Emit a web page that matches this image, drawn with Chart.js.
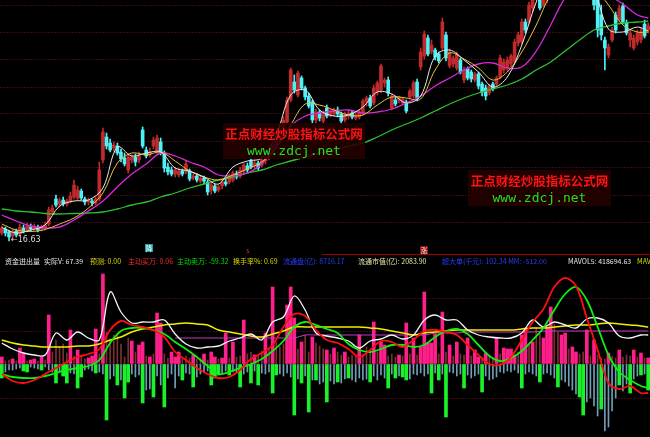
<!DOCTYPE html>
<html><head><meta charset="utf-8">
<script src="https://cdn.jsdelivr.net/npm/chart.js@4.4.1/dist/chart.umd.min.js"></script>
<style>
html,body{margin:0;padding:0;background:#000;width:650px;height:437px;overflow:hidden;}
#wrap{position:relative;width:650px;height:437px;background:#000;}
canvas{position:absolute;left:0;}
#top{top:0;}
#bot{top:268px;}
.t{position:absolute;white-space:nowrap;font-family:"Noto Sans CJK SC","Noto Sans",sans-serif;font-size:7px;line-height:9px;top:257px;}
.w{color:#e6e6e6}.y{color:#d8d800}.r{color:#ff2a2a}.g{color:#00e000}.b{color:#2a3cff}.ly{color:#e8e4a8}
.wm{position:absolute;background:rgba(38,0,0,0.88);}
.wm .cn{position:absolute;left:0;width:100%;text-align:center;color:#ff1212;font-family:"Noto Sans CJK SC",sans-serif;font-size:12.5px;font-weight:bold;line-height:14px;}
.wm .en{position:absolute;left:0;width:100%;text-align:center;color:#22e022;font-family:"DejaVu Sans Mono","Liberation Mono",monospace;font-size:13px;line-height:13px;}
.sep{position:absolute;left:322px;top:254px;width:328px;height:1px;background:#a00000;}
.mk{position:absolute;font-family:"Noto Sans CJK SC",sans-serif;font-size:7px;line-height:8px;text-align:center;width:8px;height:8px;}
</style></head>
<body><div id="wrap">
<canvas id="top" width="650" height="255"></canvas>
<canvas id="bot" width="650" height="169"></canvas>
<div class="sep"></div>
<div class="t w" style="left:5px">资金进出量</div>
<div class="t w" style="left:44px">实际V: 67.39</div>
<div class="t y" style="left:90px">预测: 0.00</div>
<div class="t r" style="left:128px">主动买万: 0.06</div>
<div class="t g" style="left:177px">主动卖万: -59.32</div>
<div class="t y" style="left:233px">换手率%: 0.69</div>
<div class="t b" style="left:283px">流通盘(亿): 8716.17</div>
<div class="t ly" style="left:358px">流通市值(亿): 2083.90</div>
<div class="t b" style="left:442px">超大单(千元): 102.34 MM: -512.00</div>
<div class="t w" style="left:568px">MAVOL5: 418694.63</div>
<div class="t y" style="left:637px">MAVOL10: 398210.55</div>
<div class="mk" style="left:145px;top:244px;background:#2a9a9a;color:#e8ffff">降</div>
<div class="mk" style="left:244px;top:246px;color:#ff2020">s</div>
<div class="mk" style="left:420px;top:246px;background:#8a1010;color:#ffe0e0">涨</div>
<div style="position:absolute;left:11px;top:235px;color:#d8d8d8;font-family:'DejaVu Sans',sans-serif;font-size:8px;line-height:10px">←16.63</div>
<div class="wm" style="left:223px;top:123px;width:142px;height:36px">
  <div class="cn" style="top:4px">正点财经炒股指标公式网</div>
  <div class="en" style="top:21px">www.zdcj.net</div>
</div>
<div class="wm" style="left:468px;top:170px;width:143px;height:36px">
  <div class="cn" style="top:4px">正点财经炒股指标公式网</div>
  <div class="en" style="top:21px">www.zdcj.net</div>
</div>
</div>
<script>
// ---- daily candles (180 sessions) ----
const opens = [16.95,17.11,16.99,16.83,17.03,16.91,17.15,17.07,17.19,17.11,
17.19,17.11,17.15,17.31,17.79,18.31,18.11,18.27,18.11,18.23,
18.39,18.35,18.63,18.31,18.19,18.23,18.15,18.31,19.87,20.79,
20.55,20.35,20.43,20.19,19.95,19.47,19.87,19.99,19.87,21.07,
20.27,20.07,20.43,20.19,20.59,20.15,19.59,19.47,19.31,19.27,
19.43,19.39,19.43,19.15,19.23,19.03,19.15,18.99,18.67,18.83,
18.67,18.83,18.99,18.99,19.07,19.31,19.23,19.43,19.63,19.83,
19.63,19.75,19.67,19.83,19.95,20.19,20.35,20.63,21.15,21.39,
22.27,22.99,22.47,23.15,22.75,22.43,22.19,21.47,21.79,21.43,
21.95,21.67,21.71,21.87,21.71,21.47,21.63,21.75,21.55,21.59,
21.75,22.19,22.35,22.15,22.59,22.67,22.95,23.07,21.95,22.27,
22.27,22.15,22.19,22.39,22.43,22.99,23.59,24.03,24.75,24.19,
24.27,24.11,24.35,24.87,23.63,23.71,23.55,23.87,23.07,23.51,
23.39,23.07,23.31,22.91,22.75,22.55,22.91,22.91,23.19,23.47,
23.55,23.71,23.79,24.55,24.59,25.39,25.39,25.95,26.39,26.47,
26.07,26.27,26.67,27.27,27.15,27.67,27.55,28.07,27.87,28.19,
27.87,27.95,27.39,27.07,26.67,26.47,25.67,24.67,24.07,24.67,
25.67,25.47,26.03,25.35,24.67,24.35,24.59,24.67,25.31,25.07];
const closes = [17.15,16.95,16.79,17.03,16.87,17.19,17.03,17.23,17.11,17.23,
17.07,17.19,17.27,17.87,17.95,18.07,18.23,18.11,18.23,18.43,
18.87,18.67,18.35,18.19,18.27,18.15,18.31,19.47,20.99,20.43,
20.27,20.47,20.15,19.91,19.71,19.99,19.99,19.79,20.03,20.43,
20.03,20.19,20.67,20.75,20.19,19.55,19.39,19.31,19.47,19.43,
19.31,19.71,19.11,19.23,19.07,19.15,19.03,18.59,18.87,18.63,
18.79,18.99,18.91,19.23,19.35,19.19,19.47,19.67,19.47,19.59,
19.75,19.55,19.87,19.95,20.19,20.39,20.67,21.15,21.47,22.27,
23.47,22.67,23.35,22.75,22.39,22.03,21.47,21.79,21.55,21.75,
21.63,21.83,21.87,21.71,21.43,21.67,21.75,21.59,21.67,21.79,
22.23,22.35,22.03,22.75,22.95,23.63,23.07,22.55,22.43,22.11,
22.39,22.31,21.83,22.63,22.95,22.35,24.19,24.91,24.11,24.47,
23.99,23.83,25.39,23.95,24.19,23.95,24.11,23.39,23.47,23.15,
23.11,23.31,22.83,22.59,22.43,22.83,22.71,23.15,23.95,23.79,
23.87,24.03,24.59,24.87,25.39,25.07,26.07,26.47,26.75,25.95,
26.39,26.67,27.27,27.07,27.67,27.47,28.07,27.79,28.27,27.87,
28.07,27.47,27.07,26.47,26.07,25.07,24.87,24.35,24.39,25.07,
25.07,25.95,25.39,24.95,24.95,24.75,24.95,24.99,24.83,25.23];
const highs = [17.23,17.19,17.07,17.11,17.11,17.31,17.27,17.35,17.31,17.31,
17.27,17.27,17.39,17.99,18.07,18.47,18.35,18.39,18.31,18.59,
19.07,18.83,18.71,18.39,18.35,18.31,18.39,19.79,21.15,20.95,
20.71,20.59,20.55,20.31,20.15,20.11,20.07,20.11,20.19,21.19,
20.39,20.35,20.79,20.87,20.75,20.23,19.75,19.59,19.59,19.55,
19.51,19.83,19.51,19.31,19.31,19.23,19.23,19.07,18.95,18.91,
18.87,19.07,19.15,19.31,19.43,19.43,19.59,19.75,19.75,19.95,
19.87,19.83,19.99,20.07,20.31,20.51,20.79,21.31,21.59,22.39,
23.55,23.27,23.43,23.23,22.83,22.55,22.27,21.91,21.87,21.83,
22.07,21.91,21.95,21.99,21.79,21.79,21.87,21.83,21.75,21.87,
22.31,22.43,22.47,22.87,23.03,23.71,23.15,23.19,22.51,22.39,
22.43,22.39,22.27,22.71,23.03,23.11,24.35,25.03,24.87,24.67,
24.35,24.19,25.55,24.99,24.31,24.03,24.19,23.95,23.59,23.59,
23.47,23.39,23.39,22.99,22.87,22.91,22.99,23.23,24.07,23.91,
23.99,24.11,24.71,24.99,25.51,25.51,26.19,26.59,26.87,26.67,
26.51,26.83,27.39,27.47,27.79,27.87,28.19,28.27,28.43,28.35,
28.19,28.07,27.55,27.15,26.87,26.67,26.07,24.79,24.51,25.19,
25.79,26.07,26.15,25.47,25.07,24.87,25.07,25.15,25.47,25.35];
const lows = [16.87,16.83,16.63,16.71,16.79,16.83,16.95,16.99,17.03,17.03,
16.99,17.03,17.07,17.23,17.67,17.99,17.99,18.03,18.03,18.15,
18.31,18.27,18.27,18.07,18.07,18.03,18.07,18.23,19.75,20.31,
20.19,20.23,20.07,19.79,19.63,19.35,19.75,19.63,19.75,20.35,
19.95,19.99,20.31,20.11,20.07,19.39,19.27,19.23,19.19,19.19,
19.23,19.31,19.03,19.07,18.99,18.95,18.91,18.47,18.51,18.55,
18.59,18.71,18.83,18.91,18.99,19.11,19.15,19.31,19.39,19.51,
19.51,19.47,19.59,19.71,19.87,20.07,20.27,20.55,21.03,21.31,
22.19,22.55,22.39,22.67,22.27,21.95,21.35,21.35,21.43,21.35,
21.55,21.59,21.63,21.59,21.35,21.39,21.51,21.51,21.47,21.51,
21.67,22.03,21.95,22.07,22.47,22.55,22.79,22.43,21.87,22.03,
22.15,22.07,21.75,22.31,22.35,22.23,23.47,23.91,24.03,24.11,
23.87,23.75,24.27,23.83,23.55,23.59,23.47,23.31,22.95,23.07,
22.99,22.99,22.71,22.43,22.27,22.47,22.63,22.83,23.11,23.35,
23.43,23.59,23.71,24.43,24.51,24.95,25.31,25.79,26.27,25.87,
25.99,26.15,26.59,26.95,27.07,27.35,27.47,27.67,27.75,27.75,
27.71,27.35,26.95,26.35,25.87,24.79,24.67,23.47,23.95,24.59,
24.95,25.39,25.31,24.87,24.39,24.27,24.47,24.55,24.75,24.95];

// ---- moving averages, sampled every 4 sessions ----
const maIdx = [0,4,8,12,16,20,24,28,32,36,40,44,48,52,56,60,64,68,72,76,80,84,88,92,96,100,104,108,112,116,120,124,128,132,136,140,144,148,152,156,160,164,168,172,176,179];
const ma5 = [17.17,16.95,17.07,17.27,18.03,18.23,18.27,18.75,20.39,20.03,20.15,20.19,19.55,19.43,19.19,18.91,19.59,19.83,19.95,20.87,22.47,22.67,21.87,21.63,21.67,21.99,22.59,22.51,22.15,22.43,24.03,24.27,23.87,23.39,22.79,23.19,24.47,26.19,27.47,27.95,27.79,26.75,25.11,24.99,25.19,25.03];
const ma10 = [17.31,17.07,17.01,17.09,17.31,17.55,17.95,18.55,19.75,20.15,20.07,20.19,19.83,19.43,19.19,19.07,19.27,19.51,19.79,20.35,21.27,22.11,22.07,21.87,21.67,21.67,22.07,22.39,22.35,22.31,23.47,24.15,23.91,23.55,23.07,23.39,24.19,25.27,26.47,26.99,26.99,26.75,26.07,25.27,24.99,24.99];
const ma20 = [17.67,17.43,17.23,17.15,17.19,17.47,17.83,18.23,18.79,19.31,19.71,20.15,20.03,19.79,19.59,19.27,19.23,19.35,19.71,20.51,21.23,21.63,21.75,21.83,21.87,21.75,21.79,21.91,22.15,22.43,22.83,23.15,23.47,23.71,23.75,23.55,23.59,24.23,25.27,26.35,26.87,26.83,26.47,26.11,25.67,25.55];
const ma60 = [17.91,17.83,17.79,17.73,17.71,17.73,17.75,17.79,17.91,18.07,18.19,18.39,18.55,18.75,18.91,19.07,19.19,19.35,19.47,19.67,19.83,19.99,20.15,20.27,20.43,20.55,20.79,21.07,21.31,21.55,21.83,22.11,22.35,22.55,22.71,22.87,23.11,23.47,23.79,24.23,24.67,25.07,25.23,25.35,25.39,25.43];
const priceGrid = [26.03,24.95,23.87,22.79,21.71,20.63,19.55,18.47,17.39];

// ---- fund flow bars: [session, value] ----
const bigBuy = [[0,0.7],[3,0.5],[5,1.6],[6,1.1],[8,0.4],[9,0.5],[11,0.7],[13,4.9],[19,3.4],[21,1.4],[24,0.6],[25,0.8],[26,3.5],[28,9.0],[36,2.3],[38,1.9],[39,2.2],[41,0.7],[43,5.1],[44,4.1],[47,1.2],[48,0.7],[49,1.2],[53,0.9],[56,1.0],[58,1.2],[59,0.7],[61,0.6],[62,3.1],[64,2.2],[67,4.4],[70,0.9],[73,3.1],[75,7.7],[79,5.9],[80,7.7],[81,4.6],[83,2.2],[86,2.7],[90,1.4],[92,1.6],[95,1.2],[99,2.9],[103,4.2],[105,2.2],[106,1.9],[110,0.9],[112,4.1],[114,2.6],[116,1.7],[117,7.2],[118,2.1],[119,2.1],[120,3.0],[122,5.2],[124,1.9],[126,2.2],[129,2.6],[131,1.4],[132,0.7],[134,1.1],[137,2.6],[139,1.6],[140,1.5],[141,1.5],[142,0.9],[144,2.9],[145,3.6],[147,2.2],[150,2.6],[151,3.7],[152,5.7],[155,2.9],[156,3.1],[158,1.7],[159,1.2],[162,3.4],[164,2.4],[168,1.1],[171,1.4],[175,1.4],[177,1.1],[179,0.6]];
const smallBuy = [[1,0.3],[2,0.4],[4,0.3],[7,0.3],[10,0.3],[12,0.4],[14,1.2],[15,2.4],[16,1.7],[17,2.0],[18,1.1],[20,0.8],[22,0.8],[23,0.5],[27,1.0],[29,3.2],[30,2.5],[31,2.9],[32,2.9],[33,2.0],[34,0.7],[35,2.6],[37,1.2],[40,0.8],[42,1.0],[45,1.0],[46,0.6],[50,0.5],[51,0.8],[52,0.6],[54,0.5],[55,0.6],[57,0.4],[60,0.5],[63,0.6],[65,0.7],[66,0.8],[68,1.0],[69,1.2],[71,0.8],[72,1.3],[74,1.5],[76,2.2],[77,1.7],[78,2.0],[82,1.5],[84,2.9],[85,1.2],[87,2.1],[88,1.8],[89,1.5],[91,1.0],[93,1.2],[94,0.9],[96,0.7],[97,0.9],[98,0.8],[100,1.0],[101,1.7],[102,1.3],[104,1.2],[107,0.8],[108,1.0],[109,0.7],[111,0.8],[113,1.0],[115,0.9],[121,1.0],[123,1.2],[125,0.8],[127,1.0],[128,0.9],[130,0.8],[133,0.6],[135,0.9],[136,0.7],[138,1.0],[143,1.2],[146,2.0],[148,3.6],[149,3.0],[153,4.0],[154,3.2],[157,1.5],[160,1.0],[161,1.2],[163,0.8],[165,0.9],[166,0.6],[167,0.5],[169,0.8],[170,0.6],[172,0.7],[173,0.9],[174,0.8],[176,0.7],[178,0.6]];
const bigSell = [[0,-1.4],[6,-0.7],[7,-0.8],[11,-0.6],[15,-1.9],[17,-1.2],[18,-1.9],[21,-2.4],[22,-1.3],[26,-0.9],[29,-5.6],[32,-2.1],[34,-3.4],[35,-1.8],[39,-3.9],[42,-3.3],[45,-4.3],[50,-1.6],[53,-2.3],[58,-2.1],[59,-1.4],[60,-1.1],[63,-1.1],[66,-2.3],[69,-1.9],[71,-2.1],[75,-2.9],[76,-1.1],[81,-5.1],[83,-1.9],[85,-4.8],[87,-1.6],[90,-3.8],[93,-1.8],[96,-1.4],[102,-1.8],[107,-2.4],[109,-1.4],[111,-1.3],[112,-1.6],[119,-2.9],[121,-1.6],[123,-5.3],[128,-2.4],[133,-2.8],[144,-2.4],[149,-1.8],[154,-2.3],[160,-3.3],[161,-5.1],[166,-4.5],[171,-2.1],[174,-2.9],[177,-1.1],[179,-2.6]];
const smallSell = [[1,-0.8],[2,-0.6],[3,-0.6],[4,-0.5],[5,-0.4],[8,-0.3],[9,-0.4],[10,-0.5],[12,-0.3],[13,-0.6],[14,-0.8],[16,-0.7],[19,-0.9],[20,-1.0],[23,-0.6],[24,-0.5],[25,-0.7],[27,-0.8],[28,-1.0],[30,-1.5],[31,-1.2],[33,-1.6],[36,-1.0],[37,-1.3],[38,-1.1],[40,-2.6],[41,-2.5],[43,-1.2],[44,-2.1],[46,-1.4],[47,-1.0],[48,-2.4],[49,-1.2],[51,-0.9],[52,-1.0],[54,-1.3],[55,-1.0],[56,-0.8],[57,-0.7],[61,-0.9],[62,-0.7],[64,-0.8],[65,-0.9],[67,-1.0],[68,-0.8],[70,-0.7],[72,-0.9],[73,-1.0],[74,-0.8],[77,-1.0],[78,-1.2],[79,-0.9],[80,-1.3],[82,-1.5],[84,-1.2],[86,-1.6],[88,-2.0],[89,-1.8],[91,-1.7],[92,-2.0],[94,-1.9],[95,-1.5],[97,-1.6],[98,-1.8],[99,-1.4],[100,-1.6],[101,-1.5],[103,-1.2],[104,-1.6],[105,-1.1],[106,-1.4],[108,-1.0],[110,-1.2],[113,-1.5],[114,-1.0],[115,-1.1],[116,-0.9],[117,-1.2],[118,-1.0],[120,-0.9],[122,-1.0],[124,-0.8],[125,-0.9],[126,-1.2],[127,-1.0],[129,-1.1],[130,-1.4],[131,-1.2],[132,-1.0],[134,-1.2],[135,-1.6],[136,-1.5],[137,-1.3],[138,-0.8],[139,-0.9],[140,-0.7],[141,-0.8],[142,-0.6],[143,-0.9],[145,-1.0],[146,-0.8],[147,-1.0],[148,-1.2],[150,-1.0],[151,-0.9],[152,-1.1],[153,-1.4],[155,-1.6],[156,-1.8],[157,-2.2],[158,-2.6],[159,-3.0],[162,-3.8],[163,-3.4],[164,-4.2],[165,-5.2],[167,-6.7],[168,-6.3],[169,-4.7],[170,-3.4],[172,-2.7],[173,-2.0],[175,-1.5],[176,-1.2],[178,-1.0]];

// ---- fund flow indicator lines, sampled every 3 sessions ----
const indIdx = [0,3,6,9,12,15,18,21,24,27,30,33,36,39,42,45,48,51,54,57,60,63,66,69,72,75,78,81,84,87,90,93,96,99,102,105,108,111,114,117,120,123,126,129,132,135,138,141,144,147,150,153,156,159,162,165,168,171,174,177,179];
const flowWhite = [2.1,1.5,1.1,0.9,0.9,3.1,2.4,3.2,2.6,2.4,7.2,5.2,4.1,4.2,4.2,4.4,3.0,2.0,1.6,1.7,1.8,2.3,2.6,3.0,2.4,4.2,4.7,6.8,5.4,3.1,2.8,2.6,2.3,1.6,2.3,2.5,2.9,2.5,2.9,4.4,4.9,4.4,4.4,3.4,2.9,2.7,2.6,2.6,3.1,4.4,3.7,4.2,3.9,3.6,4.5,4.6,4.1,2.8,2.6,2.9,2.9];
const flowYellow = [2.4,2.1,1.9,1.8,1.7,1.7,1.7,1.8,1.8,2.0,2.4,2.7,3.2,3.5,3.7,3.9,4.0,4.1,4.0,3.9,3.4,3.2,3.0,2.8,2.7,3.0,3.3,3.7,3.7,3.7,3.7,3.7,3.7,3.7,3.6,3.5,3.3,3.1,2.9,3.1,3.2,3.3,3.4,3.4,3.4,3.4,3.4,3.4,3.5,3.6,3.6,3.7,3.8,3.9,3.9,4.0,4.1,4.0,3.9,3.8,3.7];
const flowMagenta = [null,null,null,null,null,null,null,null,null,null,null,null,null,null,null,null,2.6,2.6,2.6,2.6,2.6,2.6,2.6,2.6,2.6,2.6,2.6,2.6,2.9,2.9,2.9,2.9,2.9,2.9,2.9,2.9,2.9,2.9,2.9,2.9,3.1,3.1,3.1,3.2,3.2,3.2,3.2,3.2,3.2,3.2,3.3,3.3,3.3,3.3,3.3,3.3,3.3,3.3,3.3,3.3,3.3];
const flowRed = [-1.0,-1.7,-1.9,-1.6,-1.0,-0.4,0.2,0.7,1.0,1.5,3.4,4.3,3.9,3.7,3.4,2.7,1.2,0.4,-0.4,-1.0,-1.4,-1.3,-0.6,0.5,1.1,1.9,3.7,5.0,4.8,3.4,2.4,2.1,1.5,0.7,1.4,2.3,2.2,1.7,2.4,3.3,3.4,3.2,2.9,1.9,0.9,0.0,-0.1,0.7,2.4,4.2,5.5,7.7,8.6,7.8,4.6,1.4,-1.9,-2.5,-2.2,-2.9,-2.9];
const flowGreen = [-1.0,-1.3,-1.4,-1.4,-1.2,-0.9,-0.6,-0.4,-0.2,0.4,2.1,3.3,3.6,3.6,3.4,3.0,2.2,1.5,0.7,-0.2,-1.0,-0.8,-0.4,0.0,0.5,1.3,2.3,3.7,4.2,3.9,3.5,3.1,2.0,1.4,1.2,1.5,1.9,1.9,1.7,1.9,2.7,3.3,3.5,3.0,1.9,0.8,0.3,0.6,1.3,2.4,3.6,5.4,7.0,7.7,6.4,3.7,0.9,-0.8,-1.6,-2.2,-2.4];
const flowGrid = [6.6,3.3,0,-3.4];

// ---- shared chart setup ----
const N = opens.length;
const GRID = '#3a0a15';
const UP = '#c02a2a', DOWN = '#4ff0f6';
const isUp = i => closes[i] >= opens[i];
const xScale = {type:'linear', min:-0.5, max:N-0.5, offset:false, display:false};
function gridAxis(min, max, values){
  return {min, max, offset:false,
    ticks:{display:false},
    border:{display:false, dash:[2,1]},
    grid:{color:GRID, lineWidth:1, drawTicks:false},
    afterBuildTicks: s => { s.ticks = values.map(v => ({value:v})); },
    afterFit: s => { s.width = 0; }};
}
const base = {responsive:false, animation:false, events:[],
  layout:{padding:0},
  plugins:{legend:{display:false}, tooltip:{enabled:false}}};

const pts = (idx, vals) => idx.map((i,k) => ({x:i, y:vals[k]}));
const line = (idx, vals, color, width, order) => ({type:'line', data:pts(idx, vals),
  borderColor:color, borderWidth:width, pointRadius:0, tension:0.35, spanGaps:false, order});

// ---- price panel ----
new Chart(document.getElementById('top'), {
  type:'bar',
  data:{datasets:[
    line(maIdx, ma5, '#e8e8e8', 1, 0),
    line(maIdx, ma10, '#e2c43a', 1, 0),
    line(maIdx, ma20, '#d82ad8', 1.3, 0),
    line(maIdx, ma60, '#2fbf2f', 1.3, 0),
    {data:opens.map((o,i) => ({x:i, y:[o, closes[i]]})), barThickness:3, minBarLength:1, grouped:false,
     backgroundColor:c => isUp(c.dataIndex) ? UP : DOWN, borderWidth:0, order:1},
    {data:highs.map((h,i) => ({x:i, y:[lows[i], h]})), barThickness:1, grouped:false,
     backgroundColor:c => isUp(c.dataIndex) ? UP : DOWN, borderWidth:0, order:2}
  ]},
  options:{...base, scales:{x:xScale, y:gridAxis(16.07, 26.27, priceGrid)}}
});

// ---- fund flow panel ----
const bars = (arr, color, thick, order) => ({data:arr.map(([i,v]) => ({x:i, y:v})),
  backgroundColor:color, barThickness:thick, grouped:false, borderWidth:0, order});
new Chart(document.getElementById('bot'), {
  type:'bar',
  data:{datasets:[
    line(indIdx, flowRed, '#ff1010', 1.8, 0),
    line(indIdx, flowGreen, '#10f010', 1.8, 0),
    line(indIdx, flowWhite, '#f4f4f4', 1.3, 0),
    line(indIdx, flowYellow, '#f0f000', 1.5, 0),
    line(indIdx, flowMagenta, '#c43cc4', 1, 0),
    bars(bigBuy, '#ff1f8a', 3, 1),
    bars(smallBuy, '#7a3030', 1, 2),
    bars(bigSell, '#19f22a', 3, 1),
    bars(smallSell, '#6f9fb4', 1, 2)
  ]},
  options:{...base, scales:{x:xScale, y:gridAxis(-7.3, 9.6, flowGrid)}}
});
</script>
</body></html>
